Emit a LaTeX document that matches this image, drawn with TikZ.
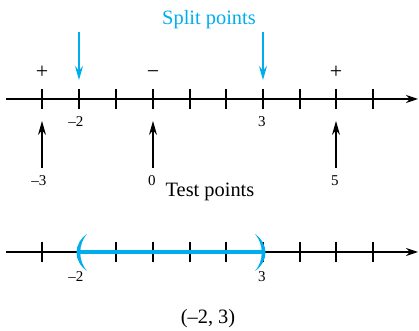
\documentclass[tikz,border=0pt]{standalone}
\usepackage{fontspec}
\setmainfont{Liberation Serif}
\usetikzlibrary{arrows.meta}
\definecolor{splitblue}{RGB}{0,174,239}

\begin{document}
\begin{tikzpicture}[x=0.5pt, y=-0.5pt,
    axis/.style={line width=0.6pt, -{Stealth[length=6pt, width=4pt]}},
    tickmark/.style={line width=0.6pt},
    pointer/.style={line width=0.6pt, -{Stealth[length=7pt, width=4pt]}},
    num/.style={font=\fontsize{7.5}{9}\selectfont, inner sep=0pt},
    sign/.style={font=\fontsize{11}{13}\selectfont, inner sep=0pt, anchor=base},
    caption/.style={font=\fontsize{10.2}{12}\selectfont, inner sep=0pt}]
    \useasboundingbox (0,0) rectangle (419,331);

    % upper number line
    \coordinate (start1) at (6,99);
    \coordinate (end1) at (418,99);
    \draw[axis] (start1) -- (end1);
    \foreach \x in {42,79,116,153,190,226,263,300,336,373}
        \draw[tickmark] (\x,89) -- (\x,109);

    \node[sign] (plusL) at (42,79) {+};
    \node[sign] (minus) at (153,79) {−};
    \node[sign] (plusR) at (336,79) {+};

    \node[num] (sa) at (76,122) {--2};
    \node[num] (sb) at (262,122) {3};

    % split points
    \node[caption, text=splitblue] (split) at (209,20) {Split points};
    \coordinate (sa top) at (79,32);
    \coordinate (sa tip) at (79,80);
    \coordinate (sb top) at (263,32);
    \coordinate (sb tip) at (263,80);
    \draw[pointer, splitblue] (sa top) -- (sa tip);
    \draw[pointer, splitblue] (sb top) -- (sb tip);

    % test points
    \node[num] (ta) at (39,181) {--3};
    \node[num] (tb) at (152,181) {0};
    \node[num] (tc) at (335,181) {5};
    \foreach \n/\x in {ta/42,tb/153,tc/336} {
        \coordinate (\n tail) at (\x,168);
        \coordinate (\n tip) at (\x,121);
        \draw[pointer] (\n tail) -- (\n tip);
    }
    \node[caption] (test) at (210,192) {Test points};

    % lower number line
    \coordinate (start2) at (6,252);
    \coordinate (end2) at (418,252);
    \draw[axis] (start2) -- (end2);
    \foreach \x in {42,116,153,190,226,263,300,336,373}
        \draw[tickmark] (\x,242) -- (\x,262);

    \coordinate (lo) at (79,252);
    \coordinate (hi) at (263,252);
    \draw[splitblue, line width=1.6pt] (lo) -- (hi);
    \fill[splitblue] (87,234) .. controls (73,244) and (73,261) .. (87,271)
        .. controls (78,261) and (78,244) .. cycle;
    \fill[splitblue] (255,234) .. controls (269,244) and (269,261) .. (255,271)
        .. controls (264,261) and (264,244) .. cycle;

    \node[num] (la) at (76,277) {--2};
    \node[num] (lb) at (262,277) {3};
    \node[caption] (interval) at (208,319) {(--2, 3)};
\end{tikzpicture}
\end{document}
